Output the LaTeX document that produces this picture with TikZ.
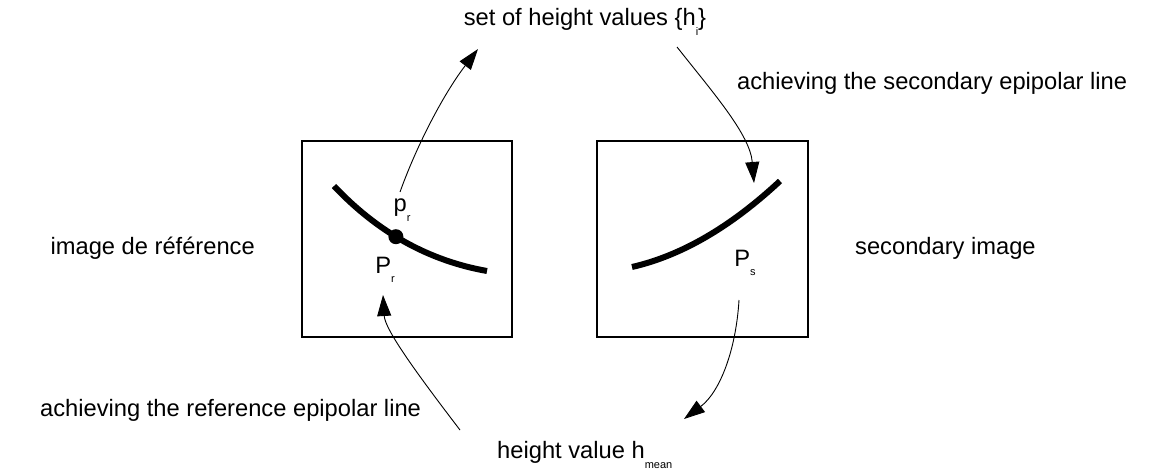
\documentclass[tikz,border=0pt]{standalone}
\usepackage{fontspec}
\setmainfont{Liberation Sans}
\usepackage{tikz}
\usetikzlibrary{arrows.meta}
\newcommand{\lowsub}[1]{\raisebox{-0.4em}{\fontsize{11}{11}\selectfont #1}}

\begin{document}
\begin{tikzpicture}[x=1pt,y=-1pt,
label text/.style={inner sep=0pt,font=\fontsize{23.7}{28}\selectfont},
image box/.style={draw,line width=1.2pt,minimum height=196pt,inner sep=0pt},
epi curve/.style={line width=6pt},
link/.style={line width=0.9pt,-{Triangle[length=21pt,width=14pt]}}]
\useasboundingbox (0,0) rectangle (1156,476);
\node[image box,minimum width=210pt] (refbox) at (407,239) {};
\node[image box,minimum width=211pt] (secbox) at (702.5,239) {};
\node[label text] (hset) at (585,22) {set of height values \{h\lowsub{i}\}};
\node[label text,anchor=west] (secline) at (737,83) {achieving the secondary epipolar line};
\node[label text,anchor=east] (refname) at (255,248) {image de r\'ef\'erence};
\node[label text,anchor=west] (secname) at (855,248) {secondary image};
\node[label text,anchor=west] (refline) at (40,410) {achieving the reference epipolar line};
\node[label text,anchor=west] (hmean) at (497,455) {height value h\lowsub{mean}};
\node[label text] (pr) at (402,210) {p\lowsub{r}};
\node[label text] (Pr) at (385,270) {P\lowsub{r}};
\node[label text] (Ps) at (745,263) {P\lowsub{s}};
% the two epipolar curves
\draw[epi curve] (334,186) .. controls (377.7,232.3) and (428.7,260.7) .. (487,271)
node[pos=0.44,circle,fill,inner sep=0pt,minimum size=15pt] (dot) {};
\draw[epi curve] (632,267) .. controls (681.3,255.7) and (730.7,227) .. (780,181);
% arrow ends
\coordinate (a1) at (400,192);
\coordinate (b1) at (478,49);
\coordinate (a2) at (677,47);
\coordinate (b2) at (754,183);
\coordinate (a3) at (460,430);
\coordinate (b3) at (383,295);
\coordinate (a4) at (739,300);
\coordinate (b4) at (684,419);
\draw[link] (a1) .. controls (418,142) and (445,92) .. (b1);
\draw[link] (a2) .. controls (715,95) and (750,135) .. (b2);
\draw[link] (a3) .. controls (418,375) and (385,330) .. (b3);
\draw[link] (a4) .. controls (736,350) and (720,392) .. (b4);
\end{tikzpicture}
\end{document}
